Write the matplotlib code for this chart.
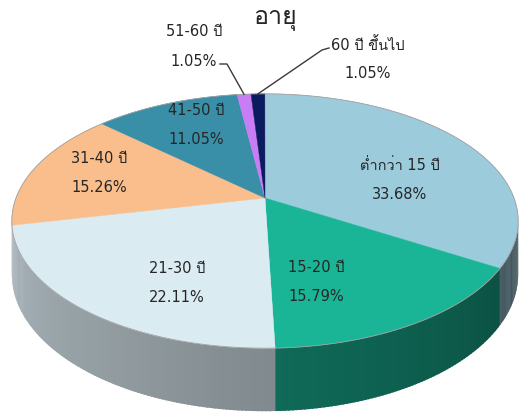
import numpy as np
import matplotlib
matplotlib.use("Agg")
import matplotlib.pyplot as plt
from matplotlib.colors import to_rgb
from matplotlib.patches import Polygon

# Latin glyphs from DejaVu, Thai glyphs fall back to Loma
plt.rcParams["font.family"] = ["DejaVu Sans", "Loma"]

title = "อายุ"
labels = ["ต่ำกว่า 15 ปี", "15-20 ปี", "21-30 ปี", "31-40 ปี", "41-50 ปี", "51-60 ปี", "60 ปี ขึ้นไป"]
shares = [33.68, 15.79, 22.11, 15.26, 11.05, 1.05, 1.05]
colors = ["#9CCBDC", "#1AB596", "#DBEBF2", "#F9BE8B", "#3A8FA8", "#C77DF3", "#0C1A5E"]

# label anchor (x, y of first line) in pixel space
label_pos = [(400, 165), (316, 267), (177, 268), (99, 158), (196, 110), (194, 32), (368, 45)]
# leader line elbows for the two thin slices (None = label sits on the slice)
leaders = [None, None, None, None, None, [(227, 64), (220, 64)], [(322, 50), (329, 48)]]

# projected disc: slight perspective, tilted toward the viewer
cx, cy = 265, 198
A, B, k = 249.0, 123.0, 0.181
depth = 51.6


def proj(theta, drop=0.0):
    t = np.radians(theta)
    u, v = np.cos(t), np.sin(t)
    w = 1 + k * v
    return cx + A * u / w, cy - B * v / w + drop / w


fig = plt.figure(figsize=(5.2, 4.15), dpi=100)
ax = fig.add_axes([0, 0, 1, 1])
ax.set_xlim(0, 520)
ax.set_ylim(415, 0)
ax.axis("off")

bounds = 90 - 360 * np.concatenate([[0], np.cumsum(shares)]) / 100.0

# visible part of the side wall lies between the two silhouette angles
lim = np.degrees(np.arcsin(k))
lo, hi = 180 + lim, 360 - lim

for i in range(len(shares)):
    a0, a1 = bounds[i], bounds[i + 1]
    steps = np.append(np.arange(a0, a1, -0.75), a1)
    for s0, s1 in zip(steps[:-1], steps[1:]):
        m = ((s0 + s1) / 2 + 360) % 360
        if m < lo or m > hi:
            continue
        tt = (m - 180) / 180.0
        shade = 0.8 - 0.42 * tt
        c = np.array(to_rgb(colors[i])) * shade
        # each strip runs a little into the next one so no seams show
        s1x = s1 - 0.4 if s1 != a1 else s1
        quad = [proj(s0), proj(s1x), proj(s1x, depth), proj(s0, depth)]
        ax.add_patch(Polygon(quad, closed=True, facecolor=c, edgecolor="none", lw=0))

# top face
for i in range(len(shares)):
    arc = np.linspace(bounds[i], bounds[i + 1], 160)
    pts = [(cx, cy)] + [proj(a) for a in arc]
    ax.add_patch(Polygon(pts, closed=True, facecolor=colors[i],
                         edgecolor=colors[i], lw=0.3))
rim = [proj(a) for a in np.linspace(0, 360, 400)]
ax.add_patch(Polygon(rim, closed=True, fill=False, edgecolor="#A0A0A0", lw=0.6))

# labels
for i in range(len(shares)):
    x, y = label_pos[i]
    ax.text(x, y, labels[i], ha="center", va="center", fontsize=10.5, color="#262626")
    ax.text(x, y + 29, "%.2f%%" % shares[i], ha="center", va="center",
            fontsize=10.5, color="#262626")
    if leaders[i] is not None:
        mid = (bounds[i] + bounds[i + 1]) / 2
        px, py = proj(mid)
        xs = [px] + [p[0] for p in leaders[i]]
        ys = [py] + [p[1] for p in leaders[i]]
        ax.plot(xs, ys, color="#3A3A3A", lw=1.0)

ax.text(275, 19, title, ha="center", va="center", fontsize=18, color="#262626")

fig.savefig("out.png", dpi=100)
